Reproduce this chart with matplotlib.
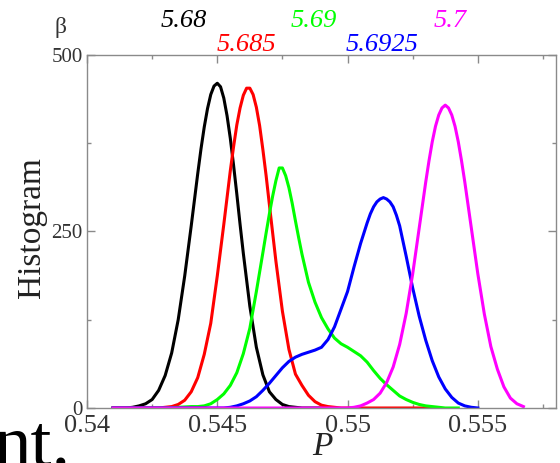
import numpy as np
import matplotlib
matplotlib.use("Agg")
import matplotlib.pyplot as plt
from matplotlib.ticker import MultipleLocator

plt.rcParams["font.family"] = ["Liberation Serif", "DejaVu Serif"]

# beta = 5.68
P_568 = [0.54100, 0.54125, 0.54150, 0.54175, 0.54200, 0.54225, 0.54250, 0.54275,
         0.54300, 0.54325, 0.54350, 0.54375, 0.54400, 0.544125, 0.54425, 0.544375,
         0.54450, 0.544625, 0.54475, 0.544875, 0.54500, 0.545125, 0.54525, 0.545375,
         0.54550, 0.545625, 0.54575, 0.545875, 0.54600, 0.54625, 0.54650, 0.54675,
         0.54700, 0.54725, 0.54750, 0.54775, 0.54800, 0.54825, 0.54850, 0.54900, 0.54950]
h_568 = [0, 0, 0, 1, 3, 6, 12, 25,
         46, 78, 125, 187, 258, 295, 332, 367,
         398, 424, 444, 456, 460, 455, 439, 414,
         382, 344, 303, 260, 219, 144, 86, 47,
         23, 12, 5, 2, 1, 0, 0, 0, 0]

# beta = 5.685
P_5685 = [0.54100, 0.54150, 0.54200, 0.54250, 0.54275, 0.54300, 0.54325, 0.54350,
          0.54375, 0.54400, 0.54425, 0.54450, 0.54475, 0.54500, 0.54525, 0.545375,
          0.54550, 0.545625, 0.54575, 0.545875, 0.54600, 0.546125, 0.54625, 0.546375,
          0.54650, 0.546625, 0.54675, 0.546875, 0.54700, 0.54725, 0.54750, 0.54775,
          0.54800, 0.54825, 0.54850, 0.54875, 0.54900, 0.54925, 0.54950, 0.54975,
          0.55050, 0.55150, 0.55250, 0.55325]
h_5685 = [0, 0, 0, 0, 0, 1, 2, 5,
          11, 23, 43, 76, 120, 187, 260, 298,
          336, 370, 401, 425, 443, 453, 453, 444,
          426, 400, 366, 329, 288, 208, 137, 83,
          48, 32, 18, 9, 4, 2, 1, 0,
          0, 0, 0, 0]

# beta = 5.69
P_569 = [0.54100, 0.54300, 0.54350, 0.54400, 0.54425, 0.54450, 0.54475, 0.54500,
         0.54525, 0.54550, 0.54575, 0.54600, 0.54625, 0.54650, 0.54675, 0.546875,
         0.54700, 0.547125, 0.54725, 0.547375, 0.54750, 0.547625, 0.54775, 0.547875,
         0.54800, 0.548125, 0.54825, 0.54850, 0.54875, 0.54900, 0.54925, 0.54950,
         0.54975, 0.55000, 0.55025, 0.55050, 0.55075, 0.55100, 0.55125, 0.55150,
         0.55175, 0.55200, 0.55225, 0.55250, 0.55275, 0.55300, 0.55325, 0.55350,
         0.55375, 0.55425]
h_569 = [0, 0, 1, 2, 2, 3, 6, 12,
         20, 32, 50, 77, 113, 165, 220, 248,
         275, 300, 322, 340, 340, 329, 312, 290,
         265, 241, 218, 178, 150, 128, 112, 99,
         91, 86, 80, 74, 65, 53, 42, 33,
         25, 17, 12, 8, 5, 3, 2, 1,
         0, 0]

# beta = 5.6925
P_56925 = [0.54100, 0.54500, 0.54525, 0.54550, 0.54575, 0.54600, 0.54625, 0.54650,
           0.54675, 0.54700, 0.54725, 0.54750, 0.54775, 0.54800, 0.54825, 0.54850,
           0.54875, 0.54900, 0.54925, 0.54950, 0.54975, 0.55000, 0.55025, 0.55050,
           0.55075, 0.550875, 0.55100, 0.551125, 0.55125, 0.551375, 0.55150, 0.551625,
           0.55175, 0.551875, 0.55200, 0.55225, 0.55250, 0.55275, 0.55300, 0.55325,
           0.55350, 0.55375, 0.55400, 0.55425, 0.55450, 0.55475, 0.55500]
h_56925 = [0, 0, 0, 1, 3, 6, 10, 16,
           25, 35, 46, 57, 66, 72, 76, 79,
           82, 86, 97, 115, 140, 165, 200, 233,
           262, 275, 285, 292, 296, 298, 296, 292,
           285, 273, 258, 215, 170, 130, 96, 67,
           44, 27, 15, 7, 3, 1, 0]

# beta = 5.7
P_570 = [0.54100, 0.55000, 0.55025, 0.55050, 0.55075, 0.55100, 0.55125, 0.55150,
         0.55175, 0.55200, 0.55225, 0.55250, 0.55275, 0.55300, 0.553125, 0.55325,
         0.553375, 0.55350, 0.553625, 0.55375, 0.553875, 0.55400, 0.554125, 0.55425,
         0.554375, 0.55450, 0.55475, 0.55500, 0.55525, 0.55550, 0.55575, 0.55600,
         0.55625, 0.55650, 0.55675]
h_570 = [0, 0, 1, 3, 7, 12, 21, 36,
         58, 90, 134, 190, 255, 320, 350, 377,
         399, 415, 425, 429, 425, 415, 399, 377,
         350, 320, 255, 190, 133, 87, 55, 30,
         14, 6, 2]

betas = ["5.68", "5.685", "5.69", "5.6925", "5.7"]
xs = [P_568, P_5685, P_569, P_56925, P_570]
ys = [h_568, h_5685, h_569, h_56925, h_570]
colors = ["#000000", "#ff0000", "#00ff00", "#0000ff", "#ff00ff"]

W, H = 560, 463
fig = plt.figure(figsize=(W / 100, H / 100), dpi=100)
ax = fig.add_axes([87 / W, 1 - 408 / H, (556 - 87) / W, (408 - 55) / H])

for x, y, col in zip(xs, ys, colors):
    ax.plot(x, y, color=col, lw=2.2, solid_joinstyle="round")

ax.set_xlim(0.54, 0.558)
ax.set_ylim(0, 500)
ax.set_xticks([0.54, 0.545, 0.55, 0.555])
ax.set_xticklabels(["0.54", "0.545", "0.55", "0.555"])
ax.xaxis.set_minor_locator(MultipleLocator(0.0025))
ax.set_yticks([0, 250, 500])
ax.set_yticklabels(["0", "250", "500"])
ax.yaxis.set_minor_locator(MultipleLocator(125))

gray = "#8a8a8a"
for s in ax.spines.values():
    s.set_color(gray)
    s.set_linewidth(1.0)
ax.tick_params(which="both", direction="in", top=True, right=True, color=gray)
ax.tick_params(which="major", length=6, width=1)
ax.tick_params(which="minor", length=3, width=1)
ax.tick_params(axis="x", labelsize=19, pad=5, labelcolor="#333333")
ax.tick_params(axis="y", labelsize=15, pad=3, labelcolor="#333333")

def ftext(x, y, s, **kw):
    fig.text(x / W, 1 - y / H, s, ha="center", va="center", **kw)

ftext(61, 27, "β", fontsize=17, color="#333333")
label_pos = [(184, 21), (246, 45), (314, 21), (382, 45), (450, 21)]
for name, col, (lx, ly) in zip(betas, colors, label_pos):
    ftext(lx, ly, name, fontsize=19, style="italic", color=col)

ftext(32, 228, "Histogram", fontsize=24, rotation=90, color="#222222")
ftext(322, 447, "P", fontsize=24, style="italic", color="#222222")

fig.text(-7 / W, -2 / H, "nt.", ha="left", va="baseline",
         fontsize=54, color="#000000")

fig.savefig("out.png", dpi=100, facecolor="white")
